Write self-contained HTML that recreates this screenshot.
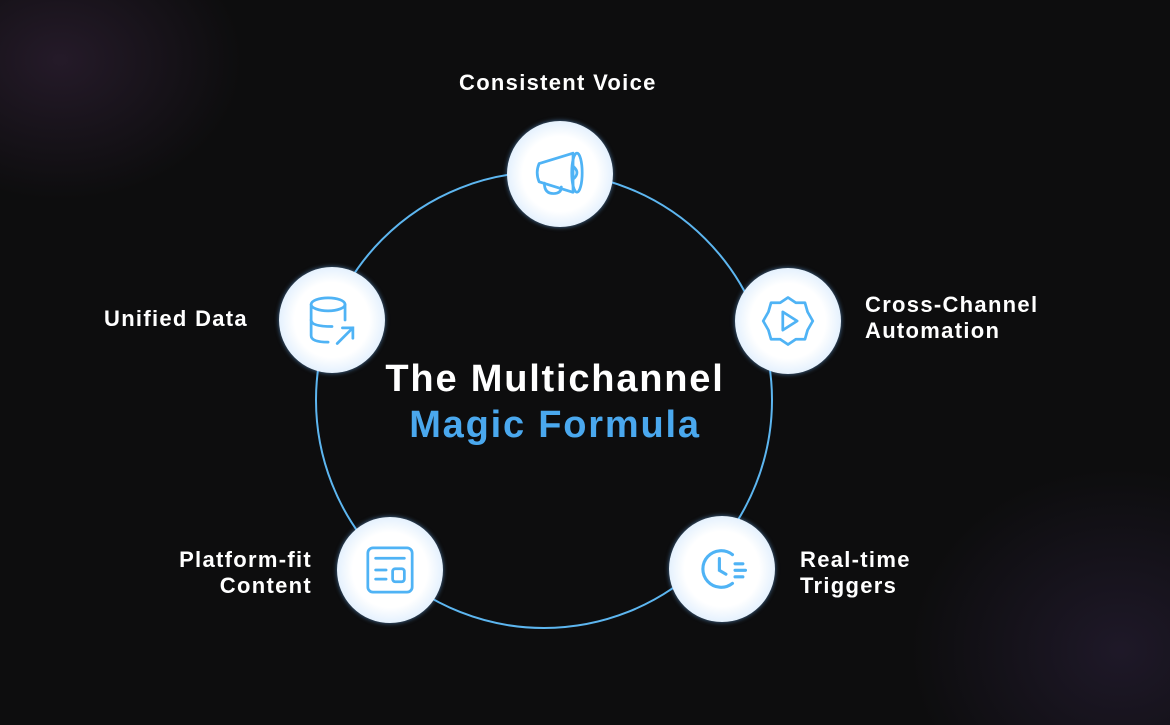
<!DOCTYPE html>
<html><head><style>
html,body{margin:0;padding:0}
body{width:1170px;height:725px;overflow:hidden;position:relative;background:#0d0d0e;font-family:"Liberation Sans",sans-serif;color:#fff}
.bg{position:absolute;inset:0;background:radial-gradient(ellipse 260px 200px at 60px 60px,rgba(80,50,90,0.35),transparent 70%),radial-gradient(ellipse 300px 260px at 1120px 650px,rgba(70,50,100,0.3),transparent 70%)}
.node{position:absolute;width:106px;height:106px;border-radius:50%;background:radial-gradient(circle,#fff 0%,#fff 50%,#e3f0fd 72%,#a9d3f8 100%);box-shadow:0 0 5px rgba(110,180,250,0.6)}
.node svg{position:absolute;left:23px;top:23px;width:60px;height:60px}
.lbl{position:absolute;font-size:22px;font-weight:bold;line-height:26px;letter-spacing:1.3px}
.title{position:absolute;left:280px;width:550px;text-align:center;font-weight:bold;font-size:38px;letter-spacing:1.8px}
</style></head><body>
<div class="bg"></div>
<svg style="position:absolute;left:0;top:0" width="1170" height="725"><circle cx="544" cy="400" r="228" fill="none" stroke="#5db6f0" stroke-width="2"/></svg>

<div class="node" style="left:507px;top:121px"><svg viewBox="7 7 46 46" fill="none" stroke="#4fb3f5" stroke-width="2.1" stroke-linecap="round" stroke-linejoin="round"><path d="M14 22 L40 14 L40 44 L14 36 Q11 29 14 22 Z"/><ellipse cx="43" cy="29" rx="4" ry="15"/><path d="M18 37 Q18 45 25 45 Q31 45 31 40"/><path d="M40 24 Q46 29 40 34"/></svg></div>
<div class="node" style="left:279px;top:267px"><svg viewBox="7 7 46 46" fill="none" stroke="#4fb3f5" stroke-width="2.1" stroke-linecap="round"><ellipse cx="27" cy="18" rx="13" ry="5"/><path d="M14 18 V42 Q14 47 27 47"/><path d="M40 18 V30"/><path d="M14 30 Q14 35 30 35"/><path d="M34 48 L46 36 M38 36 H46 V44"/></svg></div>
<div class="node" style="left:735px;top:268px"><svg viewBox="7 7 46 46" fill="none" stroke="#4fb3f5" stroke-width="2.1" stroke-linejoin="round"><path d="M30 12 L36 16 L43 16 L45 23 L49 30 L45 37 L43 44 L36 44 L30 48 L24 44 L17 44 L15 37 L11 30 L15 23 L17 16 L24 16 Z"/><path d="M26 23 L37 30 L26 37 Z"/></svg></div>
<div class="node" style="left:669px;top:516px"><svg viewBox="7 7 46 46" fill="none" stroke="#4fb3f5" stroke-width="2.4" stroke-linecap="round"><path d="M38 19 A14 14 0 1 0 38 41"/><path d="M28 22 V31 L33 34"/><path d="M40 26 H46 M40 31 H48 M40 36 H46"/></svg></div>
<div class="node" style="left:337px;top:517px"><svg viewBox="7 7 46 46" fill="none" stroke="#4fb3f5" stroke-width="2.1" stroke-linecap="round"><rect x="13" y="13" width="34" height="34" rx="4"/><path d="M19 21 H41"/><path d="M19 30 H27 M19 37 H27"/><rect x="32" y="29" width="9" height="10" rx="2"/></svg></div>

<div class="lbl" style="left:459px;top:70px">Consistent Voice</div>
<div class="lbl" style="left:104px;top:306px">Unified Data</div>
<div class="lbl" style="left:865px;top:292px">Cross-Channel<br>Automation</div>
<div class="lbl" style="left:800px;top:547px">Real-time<br>Triggers</div>
<div class="lbl" style="left:112px;top:547px;width:200px;text-align:right">Platform-fit<br>Content</div>
<div class="title" style="top:358px">The Multichannel</div>
<div class="title" style="top:404px;color:#4aa8ee">Magic Formula</div>
</body></html>
